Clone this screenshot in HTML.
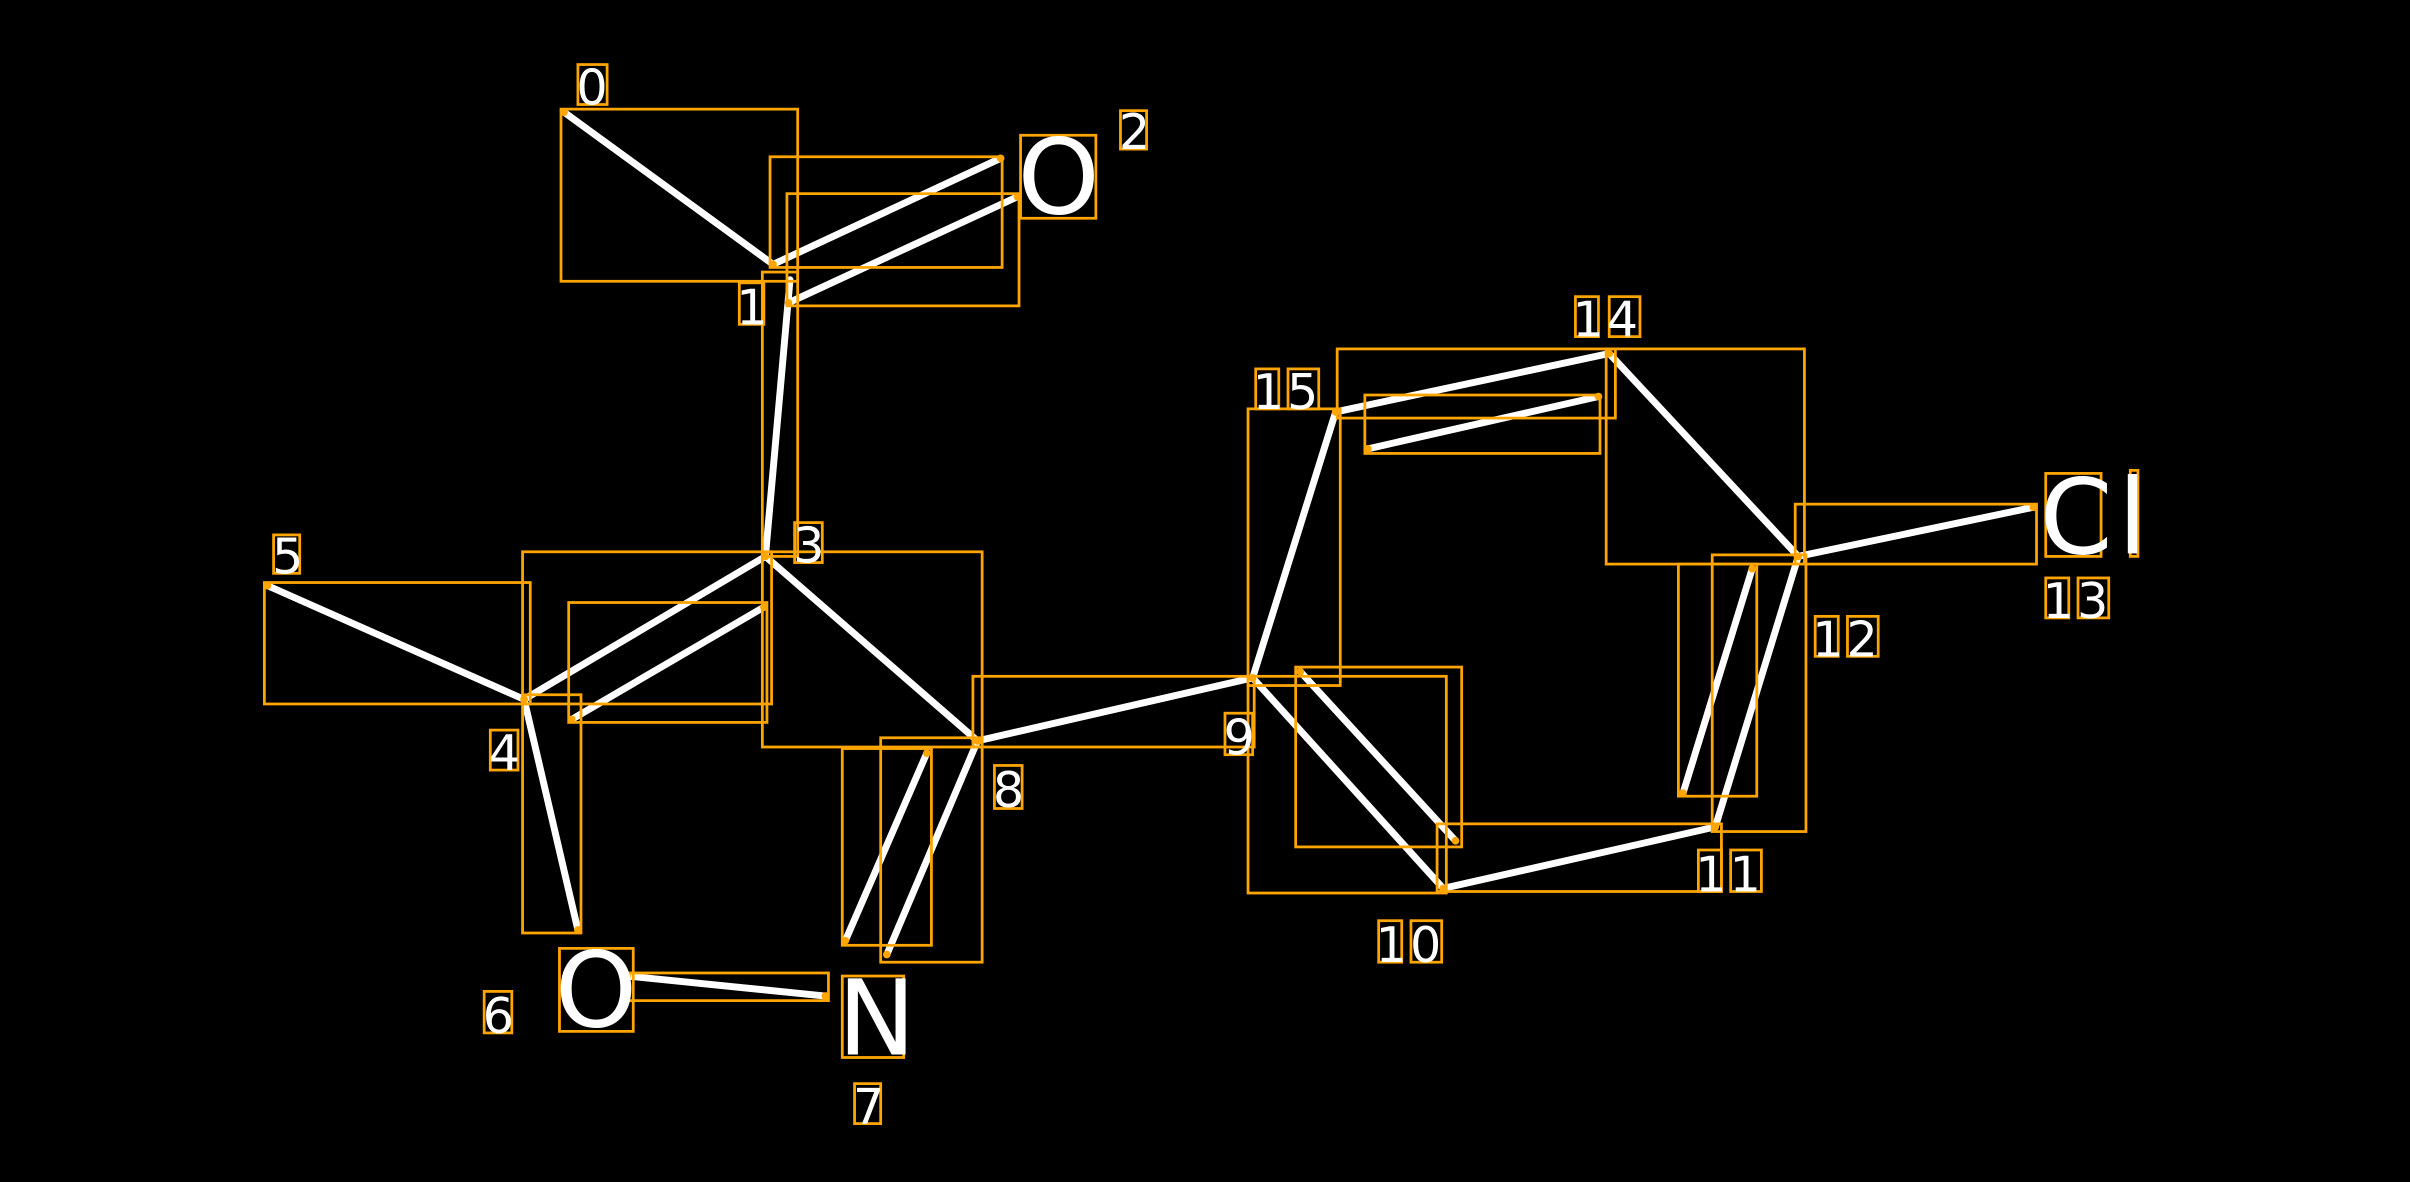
<!DOCTYPE html>
<html><head><meta charset="utf-8"><style>
html,body{margin:0;padding:0;background:#000;}
svg{display:block;}
text{font-family:"DejaVu Sans","Liberation Sans",sans-serif;fill:#fff;}
</style></head><body>
<svg width="2410" height="1182" viewBox="0 0 1568 769" preserveAspectRatio="none" xmlns="http://www.w3.org/2000/svg">
<rect x="0" y="0" width="1568" height="769" fill="#000"/>
<g stroke="#fff" stroke-width="4.5" stroke-linecap="round">
<line x1="367" y1="73" x2="503" y2="172"/>
<line x1="503" y1="172" x2="651" y2="103"/>
<line x1="513" y1="197" x2="662" y2="128"/>
<line x1="514" y1="182" x2="498" y2="362"/>
<line x1="498" y1="362" x2="341" y2="455"/>
<line x1="497" y1="395" x2="372" y2="468"/>
<line x1="341" y1="455" x2="174" y2="381"/>
<line x1="341" y1="455" x2="376" y2="605"/>
<line x1="408" y1="635" x2="537" y2="648"/>
<line x1="498" y1="362" x2="636" y2="482"/>
<line x1="636" y1="482" x2="577" y2="621"/>
<line x1="603" y1="490" x2="550" y2="612"/>
<line x1="636" y1="482" x2="815" y2="441"/>
<line x1="815" y1="441" x2="869" y2="268"/>
<line x1="869" y1="268" x2="1047" y2="230"/>
<line x1="890" y1="292" x2="1040" y2="258"/>
<line x1="1047" y1="230" x2="1170" y2="362"/>
<line x1="1170" y1="362" x2="1323" y2="330"/>
<line x1="1170" y1="362" x2="1116" y2="538"/>
<line x1="1140" y1="370" x2="1095" y2="516"/>
<line x1="1116" y1="538" x2="939" y2="578"/>
<line x1="815" y1="441" x2="939" y2="578"/>
<line x1="846" y1="437" x2="947" y2="547"/>
</g>
<g fill="none" stroke="#FFA500" stroke-width="1.8">
<rect x="365" y="71" width="154" height="112"/>
<rect x="501" y="102" width="151" height="72"/>
<rect x="512" y="126" width="151" height="73"/>
<rect x="496" y="177" width="23" height="185"/>
<rect x="340" y="359" width="162" height="99"/>
<rect x="370" y="392" width="129" height="78"/>
<rect x="172" y="379" width="173" height="79"/>
<rect x="340" y="452" width="38" height="155"/>
<rect x="409" y="633" width="130" height="18"/>
<rect x="496" y="359" width="143" height="127"/>
<rect x="548" y="487" width="58" height="128"/>
<rect x="573" y="480" width="66" height="146"/>
<rect x="633" y="440" width="183" height="46"/>
<rect x="812" y="266" width="60" height="180"/>
<rect x="812" y="440" width="129" height="141"/>
<rect x="843" y="434" width="108" height="117"/>
<rect x="935" y="536" width="185" height="44"/>
<rect x="870" y="227" width="181" height="45"/>
<rect x="888" y="257" width="153" height="38"/>
<rect x="1045" y="227" width="129" height="140"/>
<rect x="1168" y="328" width="157" height="39"/>
<rect x="1114" y="361" width="61" height="180"/>
<rect x="1092" y="367" width="51" height="151"/>
<rect x="376" y="42" width="19" height="26"/>
<rect x="481" y="184" width="16" height="27"/>
<rect x="664" y="88" width="49" height="54"/>
<rect x="729" y="72" width="17" height="25"/>
<rect x="517" y="340" width="18" height="26"/>
<rect x="178" y="348" width="17" height="25"/>
<rect x="319" y="475" width="18" height="26"/>
<rect x="364" y="617" width="48" height="54"/>
<rect x="315" y="645" width="18" height="27"/>
<rect x="548" y="635" width="40" height="53"/>
<rect x="556" y="705" width="17" height="26"/>
<rect x="647" y="498" width="18" height="28"/>
<rect x="797" y="464" width="18" height="27"/>
<rect x="817" y="240" width="15" height="26"/><rect x="838" y="240" width="20" height="26"/>
<rect x="1025" y="193" width="15" height="26"/><rect x="1047" y="193" width="20" height="26"/>
<rect x="1181" y="401" width="15" height="26"/><rect x="1202" y="401" width="20" height="26"/>
<rect x="1331" y="308" width="36" height="54"/><rect x="1386" y="306" width="5" height="56"/>
<rect x="1331" y="376" width="15" height="26"/><rect x="1352" y="376" width="20" height="26"/>
<rect x="1105" y="553" width="15" height="27"/><rect x="1126" y="553" width="20" height="27"/>
<rect x="897" y="599" width="15" height="27"/><rect x="918" y="599" width="20" height="27"/>
</g>
<g fill="#FFA500">
<circle cx="367" cy="73" r="2.5"/><circle cx="503" cy="172" r="2.5"/><circle cx="651" cy="103" r="2.5"/>
<circle cx="662" cy="128" r="2.5"/><circle cx="513" cy="197" r="2.5"/><circle cx="498" cy="362" r="2.5"/>
<circle cx="341" cy="455" r="2.5"/><circle cx="497" cy="395" r="2.5"/><circle cx="372" cy="468" r="2.5"/>
<circle cx="174" cy="381" r="2.5"/><circle cx="376" cy="605" r="2.5"/><circle cx="408" cy="635" r="2.5"/>
<circle cx="537" cy="648" r="2.5"/><circle cx="636" cy="482" r="2.5"/><circle cx="577" cy="621" r="2.5"/>
<circle cx="550" cy="612" r="2.5"/><circle cx="603" cy="490" r="2.5"/><circle cx="815" cy="441" r="2.5"/>
<circle cx="869" cy="268" r="2.5"/><circle cx="1047" cy="230" r="2.5"/><circle cx="890" cy="292" r="2.5"/>
<circle cx="1040" cy="258" r="2.5"/><circle cx="1170" cy="362" r="2.5"/><circle cx="1323" cy="330" r="2.5"/>
<circle cx="1116" cy="538" r="2.5"/><circle cx="1140" cy="370" r="2.5"/><circle cx="1095" cy="516" r="2.5"/>
<circle cx="939" cy="578" r="2.5"/><circle cx="846" cy="437" r="2.5"/><circle cx="947" cy="547" r="2.5"/>
</g>
<g font-size="32">
<text x="375" y="68">0</text>
<text x="479" y="211">1</text>
<text x="728" y="97">2</text>
<text x="516" y="366">3</text>
<text x="177" y="373">5</text>
<text x="318" y="501">4</text>
<text x="314" y="672">6</text>
<text x="555" y="731">7</text>
<text x="646" y="525">8</text>
<text x="796" y="491">9</text>
<text x="815" y="266" letter-spacing="2">15</text>
<text x="1023" y="219" letter-spacing="2">14</text>
<text x="1179" y="427" letter-spacing="2">12</text>
<text x="1329" y="402" letter-spacing="2">13</text>
<text x="1103" y="580" letter-spacing="2">11</text>
<text x="895" y="626" letter-spacing="2">10</text>
</g>
<g font-size="68">
<text x="662" y="139">O</text>
<text x="361" y="668">O</text>
<text x="545" y="686">N</text>
<text x="1327" y="360">C</text>
<text x="1378" y="360">l</text>
</g>
</svg>
</body></html>
